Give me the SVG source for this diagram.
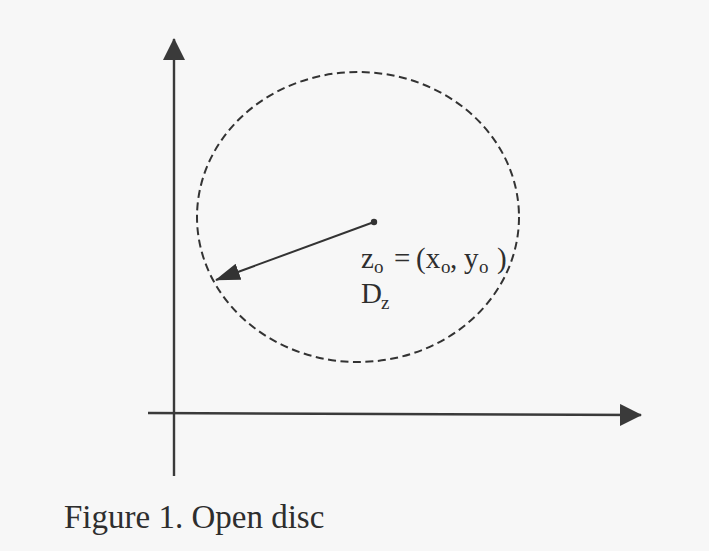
<svg xmlns="http://www.w3.org/2000/svg" width="709" height="551" viewBox="0 0 709 551">
  <style>
    .axis { stroke: #3a3a3a; stroke-width: 2.4; fill: none; }
    .radius { stroke: #333; stroke-width: 2; fill: none; }
    .disc { stroke: #333; stroke-width: 2; fill: none; stroke-dasharray: 8 4.5; }
    .t { font-family: "Liberation Serif", "Times New Roman", serif; fill: #2e2e2e; }
  </style>
  <defs>
    <marker id="axisHead" markerUnits="userSpaceOnUse" markerWidth="22" markerHeight="22" refX="21" refY="11" orient="auto" viewBox="0 0 22 22">
      <path d="M0,0 L22,11 L0,22 z" fill="#3a3a3a"/>
    </marker>
    <marker id="radHead" markerUnits="userSpaceOnUse" markerWidth="25" markerHeight="17" refX="24" refY="8.5" orient="auto" viewBox="0 0 25 17">
      <path d="M0,0 L25,8.5 L0,17 z" fill="#333"/>
    </marker>
  </defs>
  <rect width="709" height="551" fill="#f7f7f7"/>

  <g id="disc">
    <ellipse class="disc" cx="358" cy="217" rx="161" ry="145"/>
  </g>

  <g id="connectors">
    <line id="y-axis" class="axis" x1="174" y1="476" x2="174" y2="39" marker-end="url(#axisHead)"/>
    <line id="x-axis" class="axis" x1="148" y1="413" x2="641" y2="415" marker-end="url(#axisHead)"/>
    <line id="radius" class="radius" x1="374" y1="222" x2="216" y2="280" marker-end="url(#radHead)"/>
  </g>

  <g id="center">
    <circle cx="374" cy="222" r="3.2" fill="#333"/>
  </g>

  <g id="center-label">
    <text class="t" font-size="29">
      <tspan x="361" y="268">z</tspan><tspan x="374" y="273" font-size="19">o</tspan><tspan x="394" y="268">=</tspan><tspan x="416" y="268">(x</tspan><tspan x="441" y="273" font-size="19">o</tspan><tspan x="450" y="268">,</tspan><tspan x="464" y="268">y</tspan><tspan x="479" y="273" font-size="19">o</tspan><tspan x="497" y="268">)</tspan>
    </text>
  </g>

  <g id="disc-label">
    <text class="t" font-size="29"><tspan x="361" y="303">D</tspan><tspan x="381" y="309" font-size="19">z</tspan></text>
  </g>

  <g id="caption">
    <text class="t" x="64" y="528" font-size="33">Figure 1. Open disc</text>
  </g>
</svg>
